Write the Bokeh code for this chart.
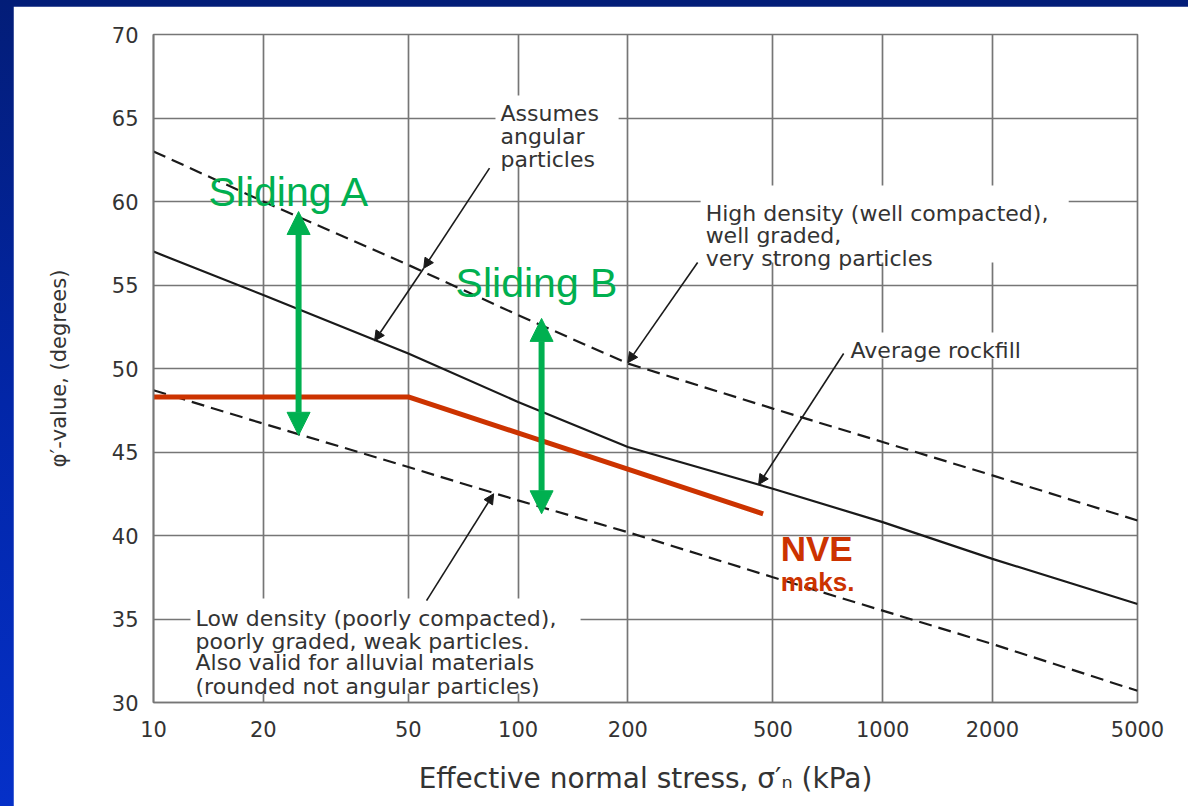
from bokeh.plotting import figure
from bokeh.models import Range1d, FixedTicker, Label, Arrow, NormalHead, BoxAnnotation
from bokeh.layouts import column
from bokeh.embed import file_html
from bokeh.resources import INLINE

# Effective normal stress (kPa) at the grid lines and their tick labels
stress_kpa = [10, 20, 50, 100, 200, 500, 1000, 2000, 5000]
stress_labels = ["10", "20", "50", "100", "200", "500", "1000", "2000", "5000"]
phi_ticks = [30, 35, 40, 45, 50, 55, 60, 65, 70]
phi_labels = ["30", "35", "40", "45", "50", "55", "60", "65", "70"]

# Friction angle (degrees) of rockfill versus normal stress (Leps-type envelopes)
phi_high_density = [63.0, 60.0, 56.2, 53.2, 50.3, 47.6, 45.6, 43.6, 40.9]
phi_average = [57.0, 54.4, 50.9, 48.0, 45.3, 42.8, 40.8, 38.6, 35.9]
phi_low_density = [48.7, 46.7, 44.1, 42.1, 40.2, 37.5, 35.5, 33.5, 30.7]

# NVE maximum design curve
nve_stress = [10, 50, 470]
nve_phi = [48.3, 48.3, 41.3]

# Ranges of friction angle for the two sliding cases
sliding_names = ["Sliding A", "Sliding B"]
sliding_stress = [25, 116]
sliding_phi_low = [46.0, 41.3]
sliding_phi_high = [59.4, 53.0]

GRID = "#767676"
INK = "#333333"
GREEN = "#00b050"
RED = "#cc3300"

p = figure(
    width=1175, height=800,
    x_axis_type="log",
    x_range=Range1d(10, 5000), y_range=Range1d(30, 70),
    output_backend="svg", toolbar_location=None,
    min_border_left=140, min_border_right=51,
    min_border_top=28, min_border_bottom=104,
    background_fill_color="white", border_fill_color="white",
)
p.margin = (6, 0, 0, 13)
p.outline_line_color = GRID
p.outline_line_width = 1.7

p.xaxis.ticker = FixedTicker(ticks=stress_kpa)
p.xgrid.ticker = FixedTicker(ticks=stress_kpa)
p.xaxis.major_label_overrides = dict(zip(stress_kpa, stress_labels))
p.yaxis.ticker = FixedTicker(ticks=phi_ticks)
p.ygrid.ticker = FixedTicker(ticks=phi_ticks)
p.yaxis.major_label_overrides = dict(zip(phi_ticks, phi_labels))

p.grid.grid_line_color = GRID
p.grid.grid_line_width = 1.7
p.grid.grid_line_alpha = 1.0

for ax in (p.xaxis, p.yaxis):
    ax.axis_line_color = GRID
    ax.axis_line_width = 1.7
    ax.major_tick_line_color = None
    ax.minor_tick_line_color = None
    ax.major_tick_out = 0
    ax.major_tick_in = 0
    ax.major_label_text_font = "DejaVu Sans"
    ax.major_label_text_font_size = "21px"
    ax.major_label_text_color = INK
    ax.axis_label_text_font = "DejaVu Sans"
    ax.axis_label_text_font_style = "normal"
    ax.axis_label_text_color = INK

p.xaxis.major_label_standoff = 18
p.yaxis.major_label_standoff = 15
p.xaxis.axis_label = "Effective normal stress, σ′ₙ (kPa)"
p.xaxis.axis_label_text_font_size = "28px"
p.xaxis.axis_label_standoff = 22
p.yaxis.axis_label = "φ′-value, (degrees)"
p.yaxis.axis_label_text_font_size = "21px"
p.yaxis.axis_label_standoff = 38

# Envelopes
p.line(stress_kpa, phi_high_density, line_color="#1a1a1a", line_width=2.2, line_dash="13 7")
p.line(stress_kpa, phi_average, line_color="#1a1a1a", line_width=2.2)
p.line(stress_kpa, phi_low_density, line_color="#1a1a1a", line_width=2.2, line_dash="13 7")

# NVE curve
p.line(nve_stress, nve_phi, line_color=RED, line_width=5)

# White panels behind the descriptive notes
note_boxes = [
    (86.7, 188.7, 66.35, 62.1),
    (316.7, 3238.0, 60.96, 56.35),
    (791.5, 2629.0, 52.16, 50.6),
    (12.63, 148.4, 36.23, 30.54),
]
for left, right, top, bottom in note_boxes:
    p.add_layout(BoxAnnotation(left=left, right=right, top=top, bottom=bottom,
                               fill_color="white", fill_alpha=1.0, line_color=None))

# Descriptive notes: (left x, baseline y of each line, lines)
notes = [
    (89.5, [65.27, 63.89, 62.51], ["Assumes", "angular", "particles"]),
    (326.9, [59.28, 57.96, 56.59],
     ["High density (well compacted),", "well graded,", "very strong particles"]),
    (816.6, [51.08], ["Average rockfill"]),
    (13.04, [35.03, 33.65, 32.37, 30.96],
     ["Low density (poorly compacted),", "poorly graded, weak particles.",
      "Also valid for alluvial materials", "(rounded not angular particles)"]),
]
for x_left, baselines, lines in notes:
    for yb, line in zip(baselines, lines):
        p.add_layout(Label(x=x_left, y=yb, text=line, text_font="DejaVu Sans",
                           text_font_size="22px", text_color=INK,
                           text_align="left", text_baseline="alphabetic"))


def pointer(x0, y0, x1, y1):
    head = NormalHead(size=10, fill_color="#1a1a1a", line_color="#1a1a1a", line_width=1)
    p.add_layout(Arrow(end=head, x_start=x0, y_start=y0, x_end=x1, y_end=y1,
                       line_color="#1a1a1a", line_width=1.6))


# Leader arrows from the notes to the curves
pointer(83.5, 62.0, 55.1, 56.0)
pointer(55.1, 56.0, 40.4, 51.65)
pointer(310.8, 56.35, 200.0, 50.35)
pointer(781.6, 50.9, 456.8, 43.05)
pointer(56.1, 36.1, 85.7, 42.5)

# Sliding ranges as double-headed arrows
for s, lo, hi in zip(sliding_stress, sliding_phi_low, sliding_phi_high):
    p.add_layout(Arrow(
        start=NormalHead(size=23, fill_color=GREEN, line_color=GREEN, line_width=1),
        end=NormalHead(size=23, fill_color=GREEN, line_color=GREEN, line_width=1),
        x_start=s, y_start=lo, x_end=s, y_end=hi,
        line_color=GREEN, line_width=6))

sliding_label_pos = [(14.15, 60.54), (67.4, 55.09)]
for name, (lx, ly) in zip(sliding_names, sliding_label_pos):
    p.add_layout(Label(x=lx, y=ly, text=name, text_font="Liberation Sans",
                       text_font_size="41px", text_color=GREEN,
                       text_align="left", text_baseline="alphabetic"))

p.add_layout(Label(x=525, y=39.22, text="NVE", text_font="Liberation Sans",
                   text_font_size="35px", text_font_style="bold", text_color=RED,
                   text_align="left", text_baseline="alphabetic"))
p.add_layout(Label(x=525, y=37.19, text="maks.", text_font="Liberation Sans",
                   text_font_size="26px", text_font_style="bold", text_color=RED,
                   text_align="left", text_baseline="alphabetic"))

page = column(p, width=1188, height=806,
              styles={"background": "linear-gradient(180deg, #031d78 0%, #0226a8 50%, #0530c8 100%)"})

open("out.html", "w").write(file_html(page, INLINE))
